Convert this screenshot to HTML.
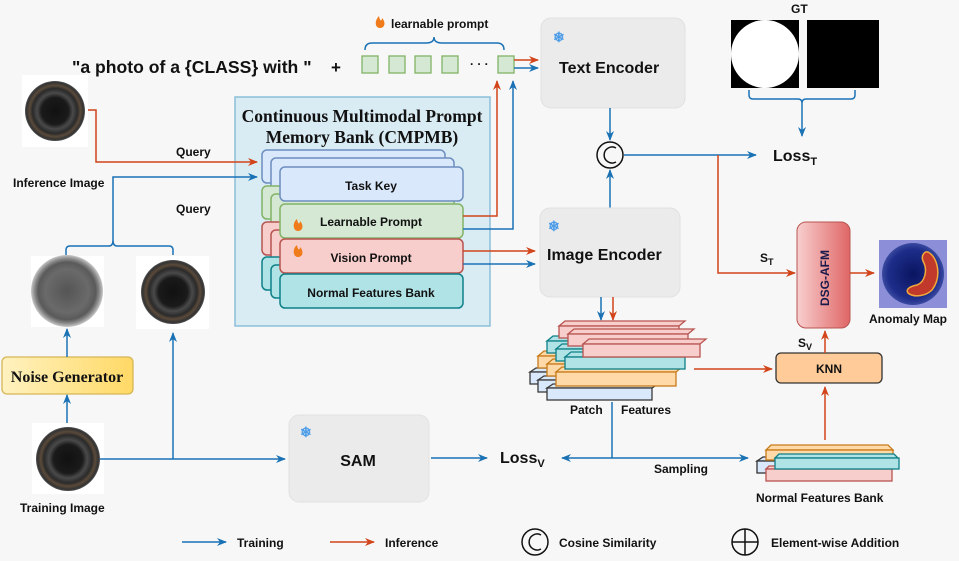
<!DOCTYPE html>
<html><head><meta charset="utf-8"><style>
html,body{margin:0;padding:0;background:#f7f7f7}
svg{display:block}
text{font-family:"Liberation Sans",Arial,sans-serif;font-weight:bold;fill:#111}
.s{font-family:"Liberation Serif",serif}
</style></head><body>
<svg width="959" height="561" viewBox="0 0 959 561" xmlns="http://www.w3.org/2000/svg">
<defs>
<marker id="ab" markerWidth="10" markerHeight="10" refX="9" refY="5" orient="auto" markerUnits="userSpaceOnUse"><path d="M0,1 L10,5 L0,9 L3,5 z" fill="#1a72b5"/></marker>
<marker id="ao" markerWidth="10" markerHeight="10" refX="9" refY="5" orient="auto" markerUnits="userSpaceOnUse"><path d="M0,1 L10,5 L0,9 L3,5 z" fill="#d2441a"/></marker>
<radialGradient id="ring" cx="50%" cy="50%" r="50%"><stop offset="0" stop-color="#111"/><stop offset="0.45" stop-color="#1a1a1a"/><stop offset="0.6" stop-color="#4a4a4a"/><stop offset="0.75" stop-color="#2a2a2a"/><stop offset="0.85" stop-color="#5a4a3a"/><stop offset="0.95" stop-color="#333"/><stop offset="1" stop-color="#555"/></radialGradient>
<radialGradient id="noise" cx="50%" cy="50%" r="50%"><stop offset="0" stop-color="#555"/><stop offset="0.6" stop-color="#6a6a6a"/><stop offset="0.8" stop-color="#5a5a5a"/><stop offset="0.9" stop-color="#8a8a8a"/><stop offset="1" stop-color="#c8c8c8"/></radialGradient>
<radialGradient id="anom" cx="50%" cy="50%" r="50%"><stop offset="0" stop-color="#0a1560"/><stop offset="0.8" stop-color="#1d2d8a"/><stop offset="1" stop-color="#3a4aa0"/></radialGradient>
<linearGradient id="ng" x1="0" y1="0" x2="1" y2="0"><stop offset="0" stop-color="#fff2c0"/><stop offset="1" stop-color="#ffd966"/></linearGradient>
<linearGradient id="dsg" x1="0" y1="0" x2="1" y2="0"><stop offset="0" stop-color="#f8cfcf"/><stop offset="1" stop-color="#e06666"/></linearGradient>
</defs>

<text x="72" y="73" font-size="17.6">"a photo of a {CLASS} with "</text>
<text x="331" y="73" font-size="17">+</text>
<g fill="#d5e8d4" stroke="#82b366" stroke-width="1.3">
<rect x="362" y="56" width="16" height="17"/><rect x="389" y="56" width="16" height="17"/><rect x="415" y="56" width="16" height="17"/><rect x="442" y="56" width="16" height="17"/><rect x="498" y="56" width="16" height="17"/>
</g>
<text x="470" y="68" font-size="12">· · ·</text>
<path d="M365,50 q0,-7 7,-7 h54 q8,0 8,-6 q0,6 8,6 h55 q7,0 7,7" fill="none" stroke="#1a72b5" stroke-width="1.5"/>
<path d="M379,16 c-5,5 -4,12 1,12 c5,0 6,-6 2,-10 c0,3 -2,4 -3,-2z" fill="#f07b1a"/>
<text x="391" y="28" font-size="12">learnable prompt</text>
<line x1="514" y1="60" x2="538" y2="60" stroke="#d2441a" stroke-width="1.5" marker-end="url(#ao)"/>
<line x1="514" y1="68" x2="538" y2="68" stroke="#1a72b5" stroke-width="1.5" marker-end="url(#ab)"/>

<rect x="541" y="18" width="144" height="90" rx="10" fill="#ebebeb" stroke="#e0e0e0"/>
<text x="553" y="42" font-size="14" style="fill:#4a9be8">❄</text>
<text x="559" y="73" font-size="16">Text Encoder</text>

<text x="791" y="13" font-size="12">GT</text>
<rect x="731" y="20" width="68" height="68" fill="#000"/>
<circle cx="765" cy="54" r="34" fill="#fff"/>
<rect x="807" y="20" width="72" height="68" fill="#000"/>
<path d="M749,90 v5 q0,4 4,4 h45 q4,0 4,4 q0,-4 4,-4 h45 q4,0 4,-4 v-5" fill="none" stroke="#1a72b5" stroke-width="1.5"/>
<line x1="802" y1="103" x2="802" y2="136" stroke="#1a72b5" stroke-width="1.5" marker-end="url(#ab)"/>
<text x="773" y="161" font-size="16">Loss<tspan font-size="11" dy="4">T</tspan></text>

<circle cx="610" cy="155" r="13" fill="none" stroke="#111" stroke-width="1.5"/>
<path d="M616,148 a8,8 0 1 0 0,14" fill="none" stroke="#111" stroke-width="1.5"/>
<line x1="610" y1="108" x2="610" y2="140" stroke="#1a72b5" stroke-width="1.5" marker-end="url(#ab)"/>
<line x1="610" y1="208" x2="610" y2="170" stroke="#1a72b5" stroke-width="1.5" marker-end="url(#ab)"/>
<line x1="624" y1="155" x2="756" y2="155" stroke="#1a72b5" stroke-width="1.5" marker-end="url(#ab)"/>
<polyline points="718,155 718,273 795,273" fill="none" stroke="#d2441a" stroke-width="1.5" marker-end="url(#ao)"/>
<text x="760" y="262" font-size="12">S<tspan font-size="9" dy="3">T</tspan></text>

<rect x="797" y="222" width="53" height="106" rx="9" fill="url(#dsg)" stroke="#b85450"/>
<text transform="translate(829,306) rotate(-90)" font-size="12" style="fill:#1a1a4a">DSG-AFM</text>
<line x1="850" y1="273" x2="874" y2="273" stroke="#d2441a" stroke-width="1.5" marker-end="url(#ao)"/>
<rect x="879" y="240" width="68" height="68" fill="#8c8fd8"/>
<circle cx="913" cy="274" r="31" fill="url(#anom)"/>
<path d="M928,252 c10,5 14,25 4,38 c-6,6 -18,8 -24,3 c-3,-4 3,-7 9,-8 c8,-3 11,-15 6,-24 c-2,-5 1,-10 5,-9z" fill="#c0392b" stroke="#f2a93b" stroke-width="1.5"/>
<text x="869" y="323" font-size="12">Anomaly Map</text>

<rect x="235" y="97" width="255" height="229" fill="#d9ebf3" stroke="#8cbfd8" stroke-width="1.5"/>
<text class="s" x="362" y="122" font-size="17.5" text-anchor="middle">Continuous Multimodal Prompt</text>
<text class="s" x="362" y="143" font-size="17.5" text-anchor="middle">Memory Bank (CMPMB)</text>
<g stroke-width="1.5">
<rect x="262" y="150" width="183" height="33" rx="5" fill="#dae8fc" stroke="#6c8ebf"/>
<rect x="271" y="158" width="183" height="33" rx="5" fill="#dae8fc" stroke="#6c8ebf"/>
<rect x="262" y="186" width="183" height="33" rx="5" fill="#d5e8d4" stroke="#82b366"/>
<rect x="271" y="194" width="183" height="33" rx="5" fill="#d5e8d4" stroke="#82b366"/>
<rect x="262" y="222" width="183" height="33" rx="5" fill="#f8cecc" stroke="#b85450"/>
<rect x="271" y="230" width="183" height="33" rx="5" fill="#f8cecc" stroke="#b85450"/>
<rect x="262" y="257" width="183" height="33" rx="5" fill="#b0e3e6" stroke="#0e8088"/>
<rect x="271" y="265" width="183" height="33" rx="5" fill="#b0e3e6" stroke="#0e8088"/>
<rect x="280" y="167" width="183" height="34" rx="5" fill="#dae8fc" stroke="#6c8ebf"/>
<rect x="280" y="204" width="183" height="34" rx="5" fill="#d5e8d4" stroke="#82b366"/>
<rect x="280" y="239" width="183" height="34" rx="5" fill="#f8cecc" stroke="#b85450"/>
<rect x="280" y="274" width="183" height="34" rx="5" fill="#b0e3e6" stroke="#0e8088"/>
</g>
<text x="371" y="190" font-size="12" text-anchor="middle">Task Key</text>
<text x="371" y="226" font-size="12" text-anchor="middle">Learnable Prompt</text>
<text x="371" y="262" font-size="12" text-anchor="middle">Vision Prompt</text>
<text x="371" y="297" font-size="12" text-anchor="middle">Normal Features Bank</text>
<path d="M297,219 c-5,4 -4,12 1,12 c5,0 6,-6 2,-10 c0,3 -2,4 -3,-2z" fill="#f07b1a"/>
<path d="M297,245 c-5,4 -4,12 1,12 c5,0 6,-6 2,-10 c0,3 -2,4 -3,-2z" fill="#f07b1a"/>
<polyline points="463,216 497,216 497,81" fill="none" stroke="#d2441a" stroke-width="1.5" marker-end="url(#ao)"/>
<polyline points="463,229 513,229 513,81" fill="none" stroke="#1a72b5" stroke-width="1.5" marker-end="url(#ab)"/>
<line x1="463" y1="251" x2="535" y2="251" stroke="#d2441a" stroke-width="1.5" marker-end="url(#ao)"/>
<line x1="463" y1="264" x2="535" y2="264" stroke="#1a72b5" stroke-width="1.5" marker-end="url(#ab)"/>

<rect x="540" y="208" width="140" height="89" rx="10" fill="#ebebeb" stroke="#e0e0e0"/>
<text x="548" y="231" font-size="14" style="fill:#4a9be8">❄</text>
<text x="547" y="260" font-size="16">Image Encoder</text>
<line x1="601" y1="297" x2="601" y2="320" stroke="#1a72b5" stroke-width="1.5" marker-end="url(#ab)"/>
<line x1="613" y1="297" x2="613" y2="320" stroke="#d2441a" stroke-width="1.5" marker-end="url(#ao)"/>

<rect x="22" y="75" width="66" height="72" fill="#fff"/>
<circle cx="55" cy="111" r="30" fill="url(#ring)"/>
<text x="13" y="187" font-size="12">Inference Image</text>
<polyline points="88,110 96,110 96,162 257,162" fill="none" stroke="#d2441a" stroke-width="1.5" marker-end="url(#ao)"/>
<text x="176" y="156" font-size="12">Query</text>
<polyline points="113,240 113,177 257,177" fill="none" stroke="#1a72b5" stroke-width="1.5" marker-end="url(#ab)"/>
<text x="176" y="213" font-size="12">Query</text>
<path d="M66,255 v-5 q0,-4 4,-4 h39 q4,0 4,-6 q0,6 4,6 h52 q4,0 4,4 v5" fill="none" stroke="#1a72b5" stroke-width="1.5"/>

<rect x="31" y="256" width="73" height="71" fill="#fff"/>
<circle cx="67" cy="291" r="36" fill="url(#noise)"/>
<rect x="136" y="256" width="73" height="73" fill="#fff"/>
<circle cx="173" cy="292" r="32" fill="url(#ring)"/>
<rect x="2" y="357" width="131" height="37" rx="5" fill="url(#ng)" stroke="#d6b656" stroke-width="1.3"/>
<text class="s" x="67" y="382" font-size="16" text-anchor="middle">Noise Generator</text>
<line x1="67" y1="357" x2="67" y2="329" stroke="#1a72b5" stroke-width="1.5" marker-end="url(#ab)"/>
<line x1="67" y1="423" x2="67" y2="395" stroke="#1a72b5" stroke-width="1.5" marker-end="url(#ab)"/>

<rect x="32" y="423" width="72" height="71" fill="#fff"/>
<circle cx="68" cy="459" r="32" fill="url(#ring)"/>
<text x="20" y="512" font-size="12">Training Image</text>
<line x1="100" y1="459" x2="285" y2="459" stroke="#1a72b5" stroke-width="1.5" marker-end="url(#ab)"/>
<line x1="173" y1="459" x2="173" y2="333" stroke="#1a72b5" stroke-width="1.5" marker-end="url(#ab)"/>

<rect x="289" y="415" width="140" height="87" rx="10" fill="#ebebeb" stroke="#e2e2e2"/>
<text x="300" y="437" font-size="14" style="fill:#4a9be8">❄</text>
<text x="358" y="466" font-size="16" text-anchor="middle">SAM</text>
<line x1="431" y1="458" x2="487" y2="458" stroke="#1a72b5" stroke-width="1.5" marker-end="url(#ab)"/>
<text x="500" y="463" font-size="16">Loss<tspan font-size="11" dy="4">V</tspan></text>

<g stroke-width="1.3">
<g fill="#dae8fc" stroke="#3a3a3a">
<path d="M530,372 l6,-4 h105 l-6,4z"/><rect x="530" y="372" width="105" height="12"/>
<path d="M538,380 l6,-4 h105 l-6,4z"/><rect x="538" y="380" width="105" height="12"/>
<path d="M547,388 l6,-4 h105 l-6,4z"/><rect x="547" y="388" width="105" height="12"/>
</g>
<g fill="#ffd9a8" stroke="#c77c1a">
<path d="M538,356 l6,-5 h120 l-6,5z"/><rect x="538" y="356" width="120" height="12"/>
<path d="M547,364 l6,-5 h120 l-6,5z"/><rect x="547" y="364" width="120" height="12"/>
<path d="M556,372 l6,-5 h120 l-6,5z"/><rect x="556" y="372" width="120" height="14"/>
</g>
<g fill="#b0e3e6" stroke="#0e8088">
<path d="M547,341 l6,-5 h120 l-6,5z"/><rect x="547" y="341" width="120" height="12"/>
<path d="M556,349 l6,-5 h120 l-6,5z"/><rect x="556" y="349" width="120" height="12"/>
<path d="M565,357 l6,-5 h120 l-6,5z"/><rect x="565" y="357" width="120" height="12"/>
</g>
<g fill="#f8cecc" stroke="#b85450">
<path d="M559,326 l6,-5 h120 l-6,5z"/><rect x="559" y="326" width="120" height="12"/>
<path d="M568,334 l6,-5 h120 l-6,5z"/><rect x="568" y="334" width="120" height="12"/>
<path d="M583,344 l6,-5 h117 l-6,5z"/><rect x="583" y="344" width="117" height="13"/>
</g>
</g>
<text x="570" y="414" font-size="12">Patch</text>
<text x="621" y="414" font-size="12">Features</text>
<line x1="612" y1="402" x2="612" y2="458" stroke="#1a72b5" stroke-width="1.5"/>
<line x1="612" y1="458" x2="562" y2="458" stroke="#1a72b5" stroke-width="1.5" marker-end="url(#ab)"/>
<line x1="612" y1="458" x2="748" y2="458" stroke="#1a72b5" stroke-width="1.5" marker-end="url(#ab)"/>
<text x="654" y="473" font-size="12">Sampling</text>
<line x1="694" y1="369" x2="772" y2="369" stroke="#d2441a" stroke-width="1.5" marker-end="url(#ao)"/>

<rect x="776" y="353" width="106" height="30" rx="5" fill="#ffcc99" stroke="#333" stroke-width="1.3"/>
<text x="829" y="373" font-size="12" text-anchor="middle">KNN</text>
<line x1="825" y1="440" x2="825" y2="387" stroke="#d2441a" stroke-width="1.5" marker-end="url(#ao)"/>
<line x1="825" y1="353" x2="825" y2="331" stroke="#d2441a" stroke-width="1.5" marker-end="url(#ao)"/>
<text x="798" y="347" font-size="12">S<tspan font-size="9" dy="3">V</tspan></text>

<g stroke-width="1.3">
<path d="M757,461 l6,-4 h20 l-6,4z" fill="#dae8fc" stroke="#333"/><rect x="757" y="461" width="20" height="12" fill="#dae8fc" stroke="#333"/>
<path d="M766,450 l5,-5 h117 l5,5z" fill="#ffd9a8" stroke="#c77c1a"/><rect x="766" y="450" width="127" height="10" fill="#ffd9a8" stroke="#c77c1a"/>
<path d="M766,469 l3,-3 h120 l3,3z" fill="#f8cecc" stroke="#b85450"/><rect x="766" y="469" width="126" height="12" fill="#f8cecc" stroke="#b85450"/>
<path d="M775,458 l4,-4 h115 l4,4z" fill="#b0e3e6" stroke="#0e8088"/><rect x="775" y="458" width="124" height="11" fill="#b0e3e6" stroke="#0e8088"/>
</g>
<text x="756" y="502" font-size="12">Normal Features Bank</text>

<line x1="182" y1="542" x2="226" y2="542" stroke="#1a72b5" stroke-width="1.5" marker-end="url(#ab)"/>
<text x="237" y="547" font-size="12">Training</text>
<line x1="330" y1="542" x2="374" y2="542" stroke="#d2441a" stroke-width="1.5" marker-end="url(#ao)"/>
<text x="385" y="547" font-size="12">Inference</text>
<circle cx="535" cy="542" r="13" fill="none" stroke="#111" stroke-width="1.5"/>
<path d="M541,535 a8,8 0 1 0 0,14" fill="none" stroke="#111" stroke-width="1.5"/>
<text x="559" y="547" font-size="12">Cosine Similarity</text>
<circle cx="745" cy="542" r="13" fill="none" stroke="#111" stroke-width="1.5"/>
<path d="M732,542 h26 M745,529 v26" stroke="#111" stroke-width="1.5"/>
<text x="771" y="547" font-size="12">Element-wise Addition</text>
</svg>
</body></html>
